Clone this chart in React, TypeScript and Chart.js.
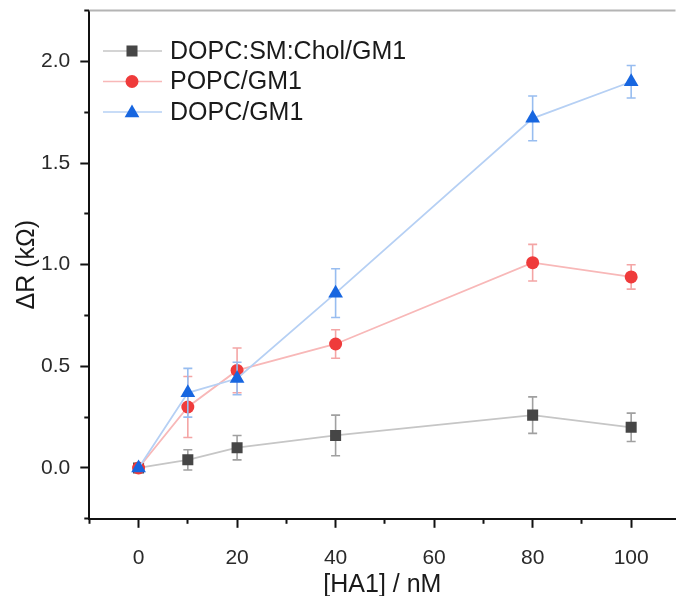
import React, { useEffect, useRef } from 'react';
import { Chart, registerables } from 'chart.js';

Chart.register(...registerables);

// ---- data ----
const concentrations = [0, 10, 20, 40, 80, 100];
const seriesNames = ['DOPC:SM:Chol/GM1', 'POPC/GM1', 'DOPC/GM1'];
const dopcSmCholValues = [0, 0.04, 0.1, 0.16, 0.26, 0.2];
const dopcSmCholErrors = [0, 0.05, 0.06, 0.1, 0.09, 0.07];
const popcValues = [0, 0.3, 0.48, 0.61, 1.01, 0.94];
const popcErrors = [0, 0.15, 0.11, 0.07, 0.09, 0.06];
const dopcValues = [0, 0.37, 0.44, 0.86, 1.72, 1.9];
const dopcErrors = [0, 0.12, 0.08, 0.12, 0.11, 0.08];
const xMajorTicks = [0, 20, 40, 60, 80, 100];
const xMinorTicks = [-10, 10, 30, 50, 70, 90, 110];
const yMajorTicks = [0, 0.5, 1.0, 1.5, 2.0];
const yMinorTicks = [-0.25, 0.25, 0.75, 1.25, 1.75, 2.25];
const xTitle = '[HA1] / nM';
const yTitle = 'ΔR (kΩ)';

const FONT = "'Liberation Sans', Arial, Helvetica, sans-serif";

const toPoints = (vals: number[]) => concentrations.map((c, i) => ({ x: c, y: vals[i] }));

const setTicks = (list: number[]) => (scale: any) => {
  scale.ticks = list
    .filter((v) => v >= scale.min - 1e-9 && v <= scale.max + 1e-9)
    .map((v) => ({ value: v }));
};

function drawMarker(ctx: CanvasRenderingContext2D, style: string, x: number, y: number, r: number) {
  ctx.beginPath();
  if (style === 'rect') {
    const s = Math.SQRT1_2 * r;
    ctx.rect(x - s, y - s, 2 * s, 2 * s);
  } else if (style === 'triangle') {
    ctx.moveTo(x, y - r);
    ctx.lineTo(x + 0.866 * r, y + 0.5 * r);
    ctx.lineTo(x - 0.866 * r, y + 0.5 * r);
    ctx.closePath();
  } else {
    ctx.arc(x, y, r, 0, Math.PI * 2);
  }
  ctx.fill();
}

const errorBarPlugin = {
  id: 'errorBars',
  beforeDatasetDraw(chart: any, args: any) {
    const ds = chart.data.datasets[args.index];
    if (!ds.errors) return;
    const ctx = chart.ctx;
    const xs = chart.scales.x;
    const ys = chart.scales.y;
    ctx.save();
    ctx.strokeStyle = ds.errorColor;
    ctx.lineWidth = 1.6;
    ds.data.forEach((pt: any, i: number) => {
      const e = ds.errors[i];
      if (!e) return;
      const px = xs.getPixelForValue(pt.x);
      const top = ys.getPixelForValue(pt.y + e);
      const bot = ys.getPixelForValue(pt.y - e);
      const cap = 4.5;
      ctx.beginPath();
      ctx.moveTo(px, top);
      ctx.lineTo(px, bot);
      ctx.moveTo(px - cap, top);
      ctx.lineTo(px + cap, top);
      ctx.moveTo(px - cap, bot);
      ctx.lineTo(px + cap, bot);
      ctx.stroke();
    });
    ctx.restore();
  },
};

const frameAndLegendPlugin = {
  id: 'frameAndLegend',
  afterDraw(chart: any) {
    const ctx = chart.ctx;
    const area = chart.chartArea;
    ctx.save();
    // top frame line
    ctx.strokeStyle = '#b4b4b4';
    ctx.lineWidth = 2;
    ctx.beginPath();
    ctx.moveTo(area.left, area.top);
    ctx.lineTo(area.right, area.top);
    ctx.stroke();
    // legend
    const rows = [51, 81.5, 112];
    chart.data.datasets.forEach((ds: any, i: number) => {
      const y = rows[i];
      ctx.strokeStyle = ds.borderColor;
      ctx.lineWidth = 1.6;
      ctx.beginPath();
      ctx.moveTo(103, y);
      ctx.lineTo(162, y);
      ctx.stroke();
      ctx.fillStyle = ds.pointBackgroundColor;
      drawMarker(ctx, ds.pointStyle, 132, ds.pointStyle === 'triangle' ? y + 1 : y, ds.pointRadius);
      ctx.fillStyle = '#1a1a1a';
      ctx.font = `25px ${FONT}`;
      ctx.textBaseline = 'middle';
      ctx.textAlign = 'left';
      ctx.fillText(ds.label, 170, y + 1);
    });
    ctx.restore();
  },
};

export default function App() {
  const canvasRef = useRef<HTMLCanvasElement | null>(null);

  useEffect(() => {
    const canvas = canvasRef.current;
    if (!canvas) return;
    const chart = new Chart(canvas, {
      type: 'line',
      data: {
        datasets: [
          {
            label: seriesNames[0],
            data: toPoints(dopcSmCholValues),
            errors: dopcSmCholErrors,
            errorColor: '#a0a0a0',
            borderColor: '#c6c6c6',
            borderWidth: 1.8,
            pointStyle: 'rect',
            pointRadius: 7.8,
            pointBackgroundColor: '#464646',
            pointBorderColor: '#464646',
            pointBorderWidth: 0,
            order: 2,
          },
          {
            label: seriesNames[1],
            data: toPoints(popcValues),
            errors: popcErrors,
            errorColor: '#f4a5a5',
            borderColor: '#f8b8b8',
            borderWidth: 1.8,
            pointStyle: 'circle',
            pointRadius: 6.5,
            pointBackgroundColor: '#ef3b3b',
            pointBorderColor: '#ef3b3b',
            pointBorderWidth: 0,
            order: 1,
          },
          {
            label: seriesNames[2],
            data: toPoints(dopcValues),
            errors: dopcErrors,
            errorColor: '#98bdf0',
            borderColor: '#b6d0f4',
            borderWidth: 1.8,
            pointStyle: 'triangle',
            pointRadius: 8.5,
            pointBackgroundColor: '#1766e0',
            pointBorderColor: '#1766e0',
            pointBorderWidth: 0,
            order: 0,
          },
        ] as any,
      },
      options: {
        responsive: false,
        animation: false,
        events: [],
        layout: { padding: { top: 10.6, right: 0, left: 0, bottom: 0 } },
        plugins: { legend: { display: false }, tooltip: { enabled: false } },
        scales: {
          x: {
            type: 'linear',
            position: 'bottom',
            weight: 1,
            min: -10,
            max: 109,
            afterBuildTicks: setTicks(xMajorTicks),
            afterFit: (s: any) => {
              s.height = 596 - 518.8;
            },
            ticks: {
              padding: 18,
              color: '#2a2a2a',
              font: { family: FONT, size: 21 },
              maxRotation: 0,
              callback: (v: any) => String(v),
            },
            grid: { drawOnChartArea: false, drawTicks: true, tickLength: 9, tickWidth: 2, tickColor: '#111' },
            border: { display: true, color: '#111', width: 2 },
            title: { display: true, text: xTitle, color: '#1a1a1a', font: { family: FONT, size: 25 }, padding: { top: 0, bottom: -4 } },
          },
          xMinor: {
            type: 'linear',
            axis: 'x',
            position: 'bottom',
            weight: 0,
            min: -10,
            max: 109,
            afterBuildTicks: setTicks(xMinorTicks),
            afterFit: (s: any) => {
              s.height = 0;
              s.paddingLeft = 0;
              s.paddingRight = 0;
            },
            ticks: { display: false },
            grid: { drawOnChartArea: false, drawTicks: true, tickLength: 5, tickWidth: 2, tickColor: '#111' },
            border: { display: false },
          },
          y: {
            type: 'linear',
            position: 'left',
            weight: 1,
            min: -0.25,
            max: 2.25,
            afterBuildTicks: setTicks(yMajorTicks),
            afterFit: (s: any) => {
              s.width = 89.3;
              s.paddingTop = 0;
              s.paddingBottom = 0;
            },
            ticks: {
              padding: 10,
              color: '#2a2a2a',
              font: { family: FONT, size: 21 },
              callback: (v: any) => Number(v).toFixed(1),
            },
            grid: { drawOnChartArea: false, drawTicks: true, tickLength: 9, tickWidth: 2, tickColor: '#111' },
            border: { display: true, color: '#111', width: 2 },
            title: { display: true, text: yTitle, color: '#1a1a1a', font: { family: FONT, size: 25 }, padding: { top: 12, bottom: 0 } },
          },
          yMinor: {
            type: 'linear',
            axis: 'y',
            position: 'left',
            weight: 0,
            min: -0.25,
            max: 2.25,
            afterBuildTicks: setTicks(yMinorTicks),
            afterFit: (s: any) => {
              s.width = 0;
              s.paddingTop = 0;
              s.paddingBottom = 0;
            },
            ticks: { display: false },
            grid: { drawOnChartArea: false, drawTicks: true, tickLength: 5, tickWidth: 2, tickColor: '#111' },
            border: { display: false },
          },
        } as any,
      },
      plugins: [errorBarPlugin, frameAndLegendPlugin],
    } as any);
    return () => chart.destroy();
  }, []);

  return (
    <div style={{ position: 'absolute', left: 0, top: 0, width: 684, height: 596, background: '#fff', overflow: 'hidden' }}>
      <canvas ref={canvasRef} width={684} height={596} />
    </div>
  );
}
